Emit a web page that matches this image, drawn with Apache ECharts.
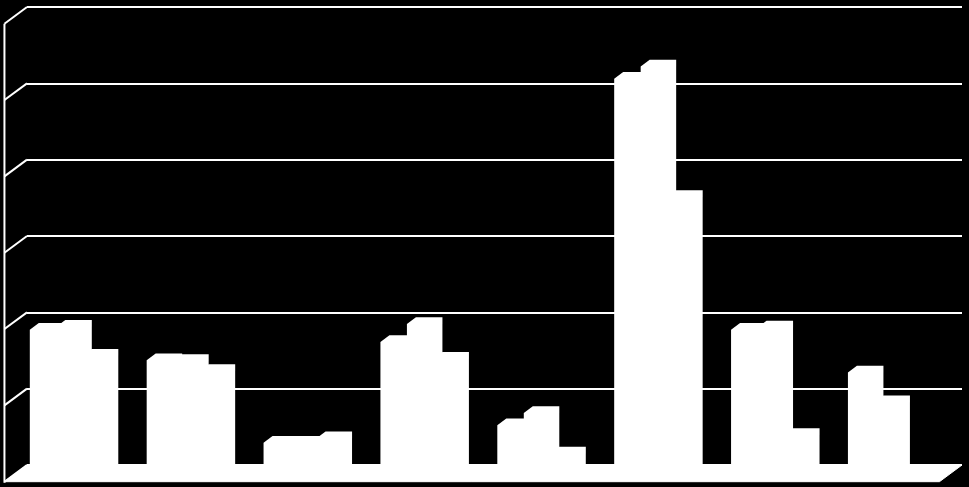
<!DOCTYPE html>
<html>
<head>
<meta charset="utf-8">
<script src="https://cdn.jsdelivr.net/npm/echarts@6/dist/echarts.min.js"></script>
<style>html,body{margin:0;padding:0;background:#000;}#c{width:969px;height:487px;}</style>
</head>
<body>
<div id="c"></div>
<script>
const categories = ['1', '2', '3', '4', '5', '6', '7', '8'];
const series1 = [18.6, 14.6, 3.8, 17.0, 6.1, 51.5, 18.6, 13.0];
const series2 = [19.0, 14.5, 3.8, 19.35, 7.7, 53.1, 18.9, 9.1];
const series3 = [15.2, 13.2, 4.4, 14.8, 2.4, 36.0, 4.8, 0];
const yTicks = [0, 10, 20, 30, 40, 50, 60];

const chart = echarts.init(document.getElementById('c'));

function barRenderer(k) {
  return function (params, api) {
    const idx = api.value(0), v = api.value(1);
    if (!v) return null;
    const band = api.size([1, 0])[0];
    const c = api.coord([idx, v]);
    const base = api.coord([idx, 0]);
    const w = band * 0.2267;
    const d = band * 0.077;
    const dy = d * 0.75;
    const x = c[0] - band / 2 + band * 0.024 + k * w;
    const yt = c[1];
    const yb = base[1] + 6;
    return {
      type: 'polygon',
      shape: { points: [[x, yb], [x, yt + dy], [x + d, yt], [x + w + d, yt], [x + w + d, yb]] },
      style: { fill: '#ffffff' }
    };
  };
}

function wallDx(band) { return band * 0.193; }

const wallSeries = {
  type: 'custom',
  clip: false,
  silent: true,
  z: 1,
  data: yTicks.map(v => [0, v]),
  renderItem: function (params, api) {
    const band = api.size([1, 0])[0];
    const p = api.coord([0, api.value(1)]);
    const x0 = p[0] - band / 2;
    const dx = wallDx(band), dyw = dx * 0.74;
    return {
      type: 'line',
      shape: { x1: x0 - dx, y1: p[1] + dyw, x2: x0, y2: p[1] },
      style: { stroke: '#ffffff', lineWidth: 2 }
    };
  }
};

const frameSeries = {
  type: 'custom',
  clip: false,
  silent: true,
  z: 1,
  data: [[0, 0]],
  renderItem: function (params, api) {
    const band = api.size([1, 0])[0];
    const p0 = api.coord([0, 0]);
    const pTop = api.coord([0, yTicks[yTicks.length - 1]]);
    const x0 = p0[0] - band / 2;
    const xr = x0 + categories.length * band;
    const dx = wallDx(band), dyw = dx * 0.74;
    return {
      type: 'group',
      children: [
        { type: 'line', shape: { x1: x0 - dx, y1: pTop[1] + dyw, x2: x0 - dx, y2: p0[1] + dyw + 1 },
          style: { stroke: '#ffffff', lineWidth: 2 } },
        { type: 'polygon', shape: { points: [[x0 - dx, p0[1] + dyw], [x0, p0[1]], [xr, p0[1]], [xr - dx, p0[1] + dyw]] },
          style: { fill: '#ffffff', stroke: '#ffffff', lineWidth: 1 } }
      ]
    };
  }
};

function barSeries(vals, k) {
  return {
    type: 'custom',
    clip: false,
    z: 2 + k,
    data: vals.map((v, i) => [i, v]),
    renderItem: barRenderer(k)
  };
}

chart.setOption({
  backgroundColor: '#000000',
  animation: false,
  grid: { left: 27, right: 7, top: 7, bottom: 22 },
  xAxis: {
    type: 'category', data: categories, show: false
  },
  yAxis: {
    type: 'value', min: 0, max: 60, interval: 10,
    axisLabel: { show: false }, axisLine: { show: false }, axisTick: { show: false },
    splitLine: { lineStyle: { color: '#ffffff', width: 2 } }
  },
  series: [
    wallSeries,
    frameSeries,
    barSeries(series1, 0),
    barSeries(series2, 1),
    barSeries(series3, 2)
  ]
});
</script>
</body>
</html>
